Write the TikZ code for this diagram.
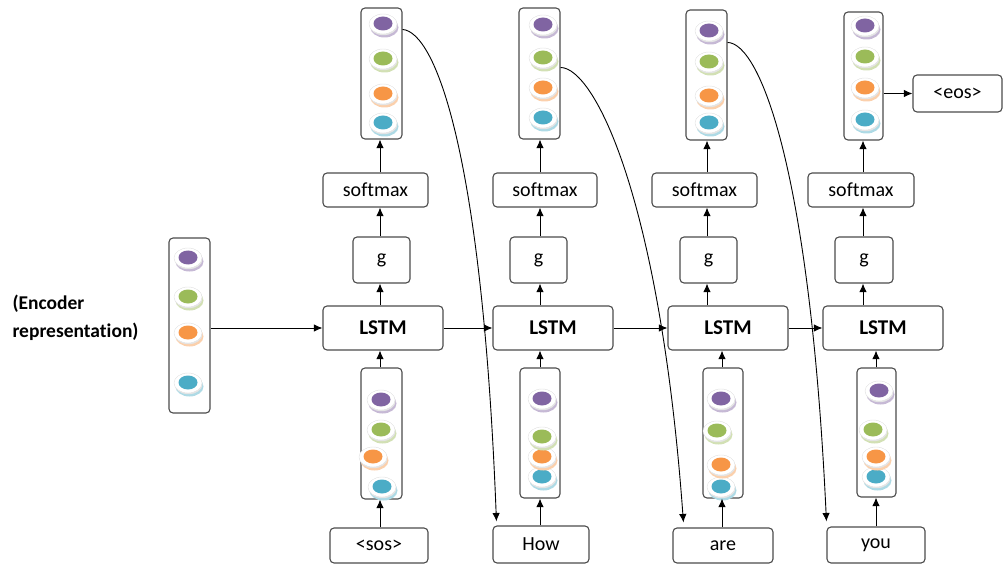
\documentclass[tikz,border=0pt]{standalone}
\usepackage{fontspec}
\setmainfont{Carlito}[Ligatures=NoCommon]
\usetikzlibrary{arrows.meta,calc}

\definecolor{cpurple}{HTML}{8064A2}
\definecolor{cgreen}{HTML}{9BBB59}
\definecolor{corange}{HTML}{F79646}
\definecolor{ccyan}{HTML}{4BACC6}

\tikzset{
  box/.style={draw=black!70, line width=1.1pt, rounded corners=4pt, fill=white, inner sep=0pt},
  vec/.style={box, fill=none},
  sz/.style 2 args={minimum width=#1pt, minimum height=#2pt},
  txt/.style={font=\fontsize{20}{22}\selectfont},
  btxt/.style={font=\fontsize{21}{22}\selectfont\bfseries},
  arr/.style={-{Latex[length=8.5pt,width=7.5pt]}, line width=1pt},
  curvearr/.style={-{Latex[length=8.5pt,width=7.5pt]}, line width=0.9pt},
  pics/disc/.style={code={
    \fill[#1!45!white] (1.5,3.5) ellipse [x radius=14pt, y radius=10pt];
    \fill[black!10] (0.5,1.2) ellipse [x radius=14pt, y radius=10pt];
    \filldraw[white, draw=black!12, line width=0.4pt] (0,0) ellipse [x radius=14pt, y radius=10pt];
    \fill[#1] (0,-0.5) ellipse [x radius=9.5pt, y radius=7pt];
  }}
}

\begin{document}
\begin{tikzpicture}[x=1pt,y=-1pt]
\useasboundingbox (0,0) rectangle (1004,564);

% column axes for the vertical arrows
\coordinate (ua) at (380,0);
\coordinate (ub) at (540,0);
\coordinate (uc) at (707,0);
\coordinate (ud) at (863,0);
\coordinate (da) at (380,0);
\coordinate (db) at (540,0);
\coordinate (dc) at (722,0);
\coordinate (dd) at (876,0);

% encoder representation
\node[align=left, anchor=west, font=\fontsize{19.5}{28}\selectfont\bfseries] (enclbl) at (9,318) {(Encoder\\representation)};
\node[vec, sz={41}{175}] (enc) at (189.5,325.5) {};
\pic at (188,383) {disc=ccyan};
\pic at (188,333) {disc=corange};
\pic at (188,297) {disc=cgreen};
\pic at (188,258) {disc=cpurple};

% LSTM cells
\node[box, btxt, sz={120}{44}] (l1) at (383,328) {LSTM};
\node[box, btxt, sz={120}{44}] (l2) at (553,328) {LSTM};
\node[box, btxt, sz={120}{44}] (l3) at (728,328) {LSTM};
\node[box, btxt, sz={120}{44}] (l4) at (883,328) {LSTM};

% g layers
\node[box, txt, sz={57}{46}] (g1) at (381.5,260) {g};
\node[box, txt, sz={57}{46}] (g2) at (538.5,260) {g};
\node[box, txt, sz={57}{46}] (g3) at (708.5,260) {g};
\node[box, txt, sz={58}{46}] (g4) at (864,260) {g};

% softmax layers
\node[box, txt, sz={105}{34}] (s1) at (375.5,190) {softmax};
\node[box, txt, sz={104}{34}] (s2) at (545,190) {softmax};
\node[box, txt, sz={105}{34}] (s3) at (704.5,190) {softmax};
\node[box, txt, sz={106}{34}] (s4) at (861,190) {softmax};

% output distributions
\node[vec, sz={41}{131}] (o1) at (381.5,73.5) {};
\pic at (383,123) {disc=ccyan};
\pic at (383,94) {disc=corange};
\pic at (383,59) {disc=cgreen};
\pic at (383,24) {disc=cpurple};

\node[vec, sz={41}{131}] (o2) at (539.5,73.5) {};
\pic at (543,118) {disc=ccyan};
\pic at (543,88) {disc=corange};
\pic at (543,58) {disc=cgreen};
\pic at (543,25) {disc=cpurple};

\node[vec, sz={41}{130}] (o3) at (706.5,75) {};
\pic at (709,123) {disc=ccyan};
\pic at (709,96) {disc=corange};
\pic at (709,62) {disc=cgreen};
\pic at (709,31) {disc=cpurple};

\node[vec, sz={39}{128}] (o4) at (863.5,76) {};
\pic at (865,120) {disc=ccyan};
\pic at (865,88) {disc=corange};
\pic at (865,57) {disc=cgreen};
\pic at (865,26) {disc=cpurple};

% input embeddings
\node[vec, sz={41}{131}] (i1) at (381.5,433.5) {};
\pic at (382,487) {disc=ccyan};
\pic at (373,457) {disc=corange};
\pic at (381,430) {disc=cgreen};
\pic at (381,400) {disc=cpurple};

\node[vec, sz={40}{130}] (i2) at (540,433) {};
\pic at (542,477) {disc=ccyan};
\pic at (542,457) {disc=corange};
\pic at (542,437) {disc=cgreen};
\pic at (542,399) {disc=cpurple};

\node[vec, sz={40}{130}] (i3) at (723,433) {};
\pic at (721,487) {disc=ccyan};
\pic at (721,465) {disc=corange};
\pic at (717,431) {disc=cgreen};
\pic at (721,399) {disc=cpurple};

\node[vec, sz={39}{129}] (i4) at (876.5,432.5) {};
\pic at (876,477) {disc=ccyan};
\pic at (876,457) {disc=corange};
\pic at (873,430) {disc=cgreen};
\pic at (879,391) {disc=cpurple};

% input tokens
\node[box, txt, sz={98}{35}] (w1) at (379,545.5) {<sos>};
\node[box, txt, sz={96}{37}] (w2) at (541,544.5) {How};
\node[box, txt, sz={100}{35}] (w3) at (723,545.5) {are};
\node[box, txt, sz={98}{36}] (w4) at (876,545) {you};

% end token
\node[box, txt, sz={89}{37}] (eos) at (957.5,93.5) {<eos>};

% vertical flow in each column
\foreach \w/\i/\l/\g/\s/\o/\d/\u in {w1/i1/l1/g1/s1/o1/da/ua, w2/i2/l2/g2/s2/o2/db/ub, w3/i3/l3/g3/s3/o3/dc/uc, w4/i4/l4/g4/s4/o4/dd/ud}{
  \draw[arr] (\w.north -| \d) -- (\i.south -| \d);
  \draw[arr] (\i.north -| \d) -- (\l.south -| \d);
  \draw[arr] (\l.north -| \u) -- (\g.south -| \u);
  \draw[arr] (\g.north -| \u) -- (\s.south -| \u);
  \draw[arr] (\s.north -| \u) -- (\o.south -| \u);
}

% recurrent connections
\draw[arr] (enc.east |- l1.west) -- (l1.west);
\draw[arr] (l1.east) -- (l2.west);
\draw[arr] (l2.east) -- (l3.west);
\draw[arr] (l3.east) -- (l4.west);

% output to end token
\draw[arr] (o4.east |- eos.west) -- (eos.west);

% predicted words fed back as next inputs
\draw[curvearr] ($(o1.north east)+(0,22)$) .. controls (435,32) and (482,150) .. ($(w2.north west)+(4,-4)$);
\draw[curvearr] ($(o2.north east)+(0,60)$) .. controls (595,68) and (660,200) .. ($(w3.north west)+(11,-5)$);
\draw[curvearr] ($(o3.north east)+(0,33)$) .. controls (760,43) and (810,170) .. ($(w4.north west)+(0,-5)$);
\end{tikzpicture}
\end{document}
